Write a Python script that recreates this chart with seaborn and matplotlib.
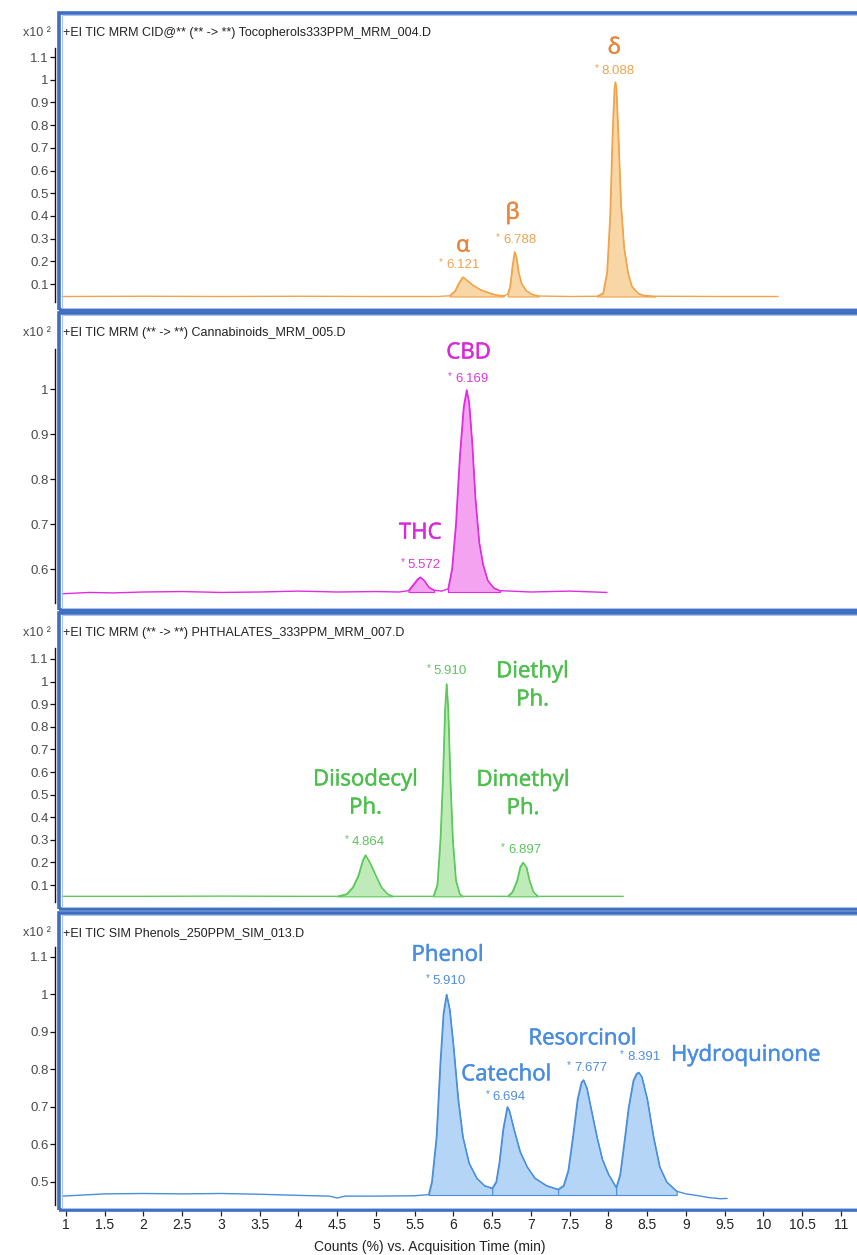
import numpy as np
import pandas as pd
import matplotlib
matplotlib.use("Agg")
import matplotlib.pyplot as plt
import matplotlib.patheffects as pe
from matplotlib.patches import Rectangle
import seaborn as sns

# ---------------- data ----------------
# Tocopherols (MRM) trace
toco_time = [0.95, 2.0, 3.0, 4.0, 5.0, 5.8, 5.95, 6.02, 6.07, 6.121, 6.17, 6.25, 6.35, 6.45,
             6.55, 6.65, 6.70, 6.73, 6.76, 6.788, 6.81, 6.84, 6.88, 6.94, 7.02, 7.10, 7.5,
             7.85, 7.93, 7.98, 8.02, 8.05, 8.075, 8.088, 8.10, 8.13, 8.16, 8.20, 8.25, 8.30,
             8.38, 8.45, 8.6, 9.5, 10.19]
toco_signal = [0.045, 0.046, 0.045, 0.046, 0.045, 0.045, 0.048, 0.07, 0.105, 0.131, 0.118,
               0.095, 0.075, 0.062, 0.052, 0.048, 0.055, 0.09, 0.18, 0.242, 0.22, 0.15, 0.10,
               0.07, 0.054, 0.047, 0.045, 0.046, 0.06, 0.15, 0.40, 0.75, 0.96, 0.99, 0.96,
               0.72, 0.45, 0.26, 0.15, 0.09, 0.06, 0.05, 0.046, 0.045, 0.045]
toco_rt = [6.121, 6.788, 8.088]
toco_names = ["α", "β", "δ"]
toco_windows = [(5.95, 6.65), (6.70, 7.10), (7.85, 8.60)]

# Cannabinoids (MRM) trace
cann_time = [0.95, 1.3, 1.6, 2.0, 2.5, 3.0, 3.5, 4.0, 4.5, 5.0, 5.3, 5.42, 5.48, 5.54, 5.572,
             5.62, 5.68, 5.75, 5.85, 5.93, 5.98, 6.03, 6.08, 6.13, 6.169, 6.20, 6.24, 6.28,
             6.33, 6.38, 6.44, 6.52, 6.6, 7.0, 7.5, 7.98]
cann_signal = [0.545, 0.548, 0.547, 0.549, 0.550, 0.548, 0.549, 0.551, 0.549, 0.550, 0.549,
               0.552, 0.565, 0.578, 0.582, 0.575, 0.560, 0.553, 0.551, 0.556, 0.60, 0.70,
               0.85, 0.96, 0.998, 0.97, 0.88, 0.76, 0.66, 0.61, 0.575, 0.558, 0.552, 0.549,
               0.551, 0.548]
cann_rt = [5.572, 6.169]
cann_names = ["THC", "CBD"]
cann_windows = [(5.42, 5.75), (5.93, 6.6)]

# Phthalates (MRM) trace
phth_time = [0.95, 2.0, 3.0, 4.0, 4.50, 4.62, 4.70, 4.77, 4.83, 4.864, 4.92, 5.0, 5.07, 5.15,
             5.22, 5.5, 5.74, 5.79, 5.83, 5.86, 5.89, 5.91, 5.93, 5.96, 5.99, 6.03, 6.08,
             6.12, 6.4, 6.70, 6.76, 6.82, 6.86, 6.897, 6.94, 6.98, 7.03, 7.09, 7.5, 8.19]
phth_signal = [0.050, 0.050, 0.051, 0.050, 0.050, 0.060, 0.090, 0.14, 0.21, 0.233, 0.20,
               0.14, 0.09, 0.06, 0.050, 0.050, 0.050, 0.10, 0.30, 0.55, 0.88, 0.99, 0.88,
               0.55, 0.30, 0.12, 0.06, 0.050, 0.050, 0.050, 0.07, 0.12, 0.18, 0.20, 0.18,
               0.12, 0.07, 0.050, 0.050, 0.050]
phth_rt = [4.864, 5.910, 6.897]
phth_names = ["Diisodecyl\nPh.", "Diethyl\nPh.", "Dimethyl\nPh."]
phth_windows = [(4.50, 5.22), (5.74, 6.12), (6.70, 7.09)]

# Phenols (SIM) trace
phen_time = [0.95, 1.5, 2.0, 2.5, 3.0, 3.5, 4.0, 4.4, 4.5, 4.6, 5.0, 5.5, 5.68, 5.72, 5.78,
             5.83, 5.87, 5.91, 5.95, 6.0, 6.06, 6.12, 6.2, 6.3, 6.4, 6.50, 6.55, 6.59, 6.64,
             6.694, 6.72, 6.78, 6.86, 6.95, 7.05, 7.2, 7.35, 7.42, 7.48, 7.54, 7.60, 7.65,
             7.677, 7.72, 7.78, 7.85, 7.92, 8.0, 8.10, 8.15, 8.20, 8.26, 8.32, 8.36, 8.391,
             8.43, 8.5, 8.58, 8.66, 8.75, 8.88, 9.0, 9.1, 9.3, 9.45, 9.53]
phen_signal = [0.462, 0.468, 0.469, 0.468, 0.469, 0.467, 0.464, 0.462, 0.457, 0.462, 0.462,
               0.463, 0.466, 0.50, 0.62, 0.82, 0.95, 1.0, 0.96, 0.86, 0.72, 0.62, 0.55, 0.51,
               0.49, 0.483, 0.50, 0.55, 0.64, 0.70, 0.69, 0.64, 0.58, 0.54, 0.51, 0.49, 0.48,
               0.49, 0.53, 0.62, 0.72, 0.765, 0.772, 0.75, 0.69, 0.62, 0.56, 0.52, 0.485, 0.52,
               0.60, 0.70, 0.77, 0.788, 0.792, 0.78, 0.72, 0.62, 0.54, 0.50, 0.475, 0.468,
               0.465, 0.458, 0.455, 0.456]
phen_rt = [5.910, 6.694, 7.677, 8.391]
phen_names = ["Phenol", "Catechol", "Resorcinol", "Hydroquinone"]
phen_windows = [(5.68, 6.50), (6.50, 7.35), (7.35, 8.10), (8.10, 8.88)]

titles = ["+EI TIC MRM CID@** (** -> **) Tocopherols333PPM_MRM_004.D",
          "+EI TIC MRM (** -> **) Cannabinoids_MRM_005.D",
          "+EI TIC MRM (** -> **) PHTHALATES_333PPM_MRM_007.D",
          "+EI TIC SIM Phenols_250PPM_SIM_013.D"]
x_ticks = [1, 1.5, 2, 2.5, 3, 3.5, 4, 4.5, 5, 5.5, 6, 6.5, 7, 7.5, 8, 8.5, 9, 9.5, 10, 10.5, 11]
x_label = "Counts (%) vs. Acquisition Time (min)"

# ---------------- styling ----------------
sns.set_style("white")
plt.rcParams["font.family"] = ["Liberation Sans", "DejaVu Sans"]

W, H = 857, 1255
fig = plt.figure(figsize=(W / 100, H / 100), dpi=100)

FRAME = "#3E6DC2"
FRAME_IN = "#A9C3EC"
NAME_FONT = ["Open Sans", "DejaVu Sans"]
NARROW = ["Liberation Sans Narrow", "Liberation Sans", "DejaVu Sans"]

panels = [
    dict(t=toco_time, v=toco_signal, rt=toco_rt, names=toco_names, win=toco_windows,
         base=0.045, line="#F2A44A", fill="#F9D6A6", name_c="#E88538", num_c="#F0A24E",
         box=(13, 310), ylim=(-0.0145, 1.294), yticks=np.round(np.arange(0.1, 1.15, 0.1), 1),
         spine=(0.02, 1.14),
         name_off=[(0, 31), (-2, 39), (-1, 34)], num_off=[(0, 12), (5, 12), (3, 11)]),
    dict(t=cann_time, v=cann_signal, rt=cann_rt, names=cann_names, win=cann_windows,
         base=0.549, line="#E22BE2", fill="#F4A3F1", name_c="#D92AD9", num_c="#DD38DD",
         box=(313, 610), ylim=(0.509, 1.169), yticks=np.round(np.arange(0.6, 1.05, 0.1), 1),
         spine=(0.524, 1.089),
         name_off=[(0, 44), (2, 37)], num_off=[(4, 12), (5, 11)]),
    dict(t=phth_time, v=phth_signal, rt=phth_rt, names=phth_names, win=phth_windows,
         base=0.05, line="#5CC95C", fill="#BFEBB9", name_c="#4DBF4D", num_c="#5CC45C",
         box=(613, 909), ylim=(-0.006, 1.3035), yticks=np.round(np.arange(0.1, 1.15, 0.1), 1),
         spine=(0.025, 1.149),
         name_off=[(0, 61), (86, -2), (0, 68)], num_off=[(3, 13), (4, 13), (2, 12)]),
    dict(t=phen_time, v=phen_signal, rt=phen_rt, names=phen_names, win=phen_windows,
         base=0.465, line="#4A8EDC", fill="#B4D5F6", name_c="#4A8DE0", num_c="#4F8FDC",
         box=(913, 1210), ylim=(0.425, 1.217), yticks=np.round(np.arange(0.5, 1.15, 0.1), 1),
         spine=(0.439, 1.127),
         name_off=[(1, 39), (-1, 32), (-1, 41), (107, 17)],
         num_off=[(3, 13), (2, 10), (7, 12), (5, 15)]),
]

left_px, right_px = 59, 866
xlim = (0.897 + (left_px - 58) / 77.5, 0.897 + (right_px - 58) / 77.5)

for i, p in enumerate(panels):
    top, bot = p["box"]
    ax = fig.add_axes([left_px / W, 1 - bot / H, (right_px - left_px) / W, (bot - top) / H])
    ax.set_facecolor("white")
    df = pd.DataFrame({"time": p["t"], "signal": p["v"]})

    # integrated peak areas
    tt = np.asarray(p["t"])
    vv = np.asarray(p["v"])
    for a, b in p["win"]:
        m = (tt >= a - 1e-9) & (tt <= b + 1e-9)
        ax.fill_between(tt[m], p["base"], vv[m], facecolor=p["fill"], edgecolor=p["line"],
                        linewidth=0.8, zorder=1)

    sns.lineplot(data=df, x="time", y="signal", ax=ax, color=p["line"], linewidth=1.0,
                 estimator=None, sort=False, zorder=2)

    ax.set_xlim(*xlim)
    ax.set_ylim(*p["ylim"])
    ax.set_xlabel("")
    ax.set_ylabel("")

    # peak labels
    apex = dict(zip(p["t"], p["v"]))
    bold = [pe.withStroke(linewidth=0.35, foreground=p["name_c"])]
    for rt, name, (nx, ny), (dx, dy) in zip(p["rt"], p["names"], p["name_off"], p["num_off"]):
        yv = apex[rt]
        ax.annotate(f"{rt:.3f}", xy=(rt, yv), xytext=(dx, dy), textcoords="offset pixels",
                    ha="center", va="center", fontsize=9.5, color=p["num_c"])
        ax.annotate("*", xy=(rt, yv), xytext=(dx - 22, dy + 3), textcoords="offset pixels",
                    ha="center", va="center", fontsize=7, color=p["num_c"])
        ax.annotate(name, xy=(rt, yv), xytext=(nx, ny), textcoords="offset pixels",
                    ha="center", va="center", fontsize=16, color=p["name_c"],
                    family=NAME_FONT, linespacing=1.45, path_effects=bold)

    # y axis: black spine slightly left of the frame
    for s in ["top", "right", "bottom"]:
        ax.spines[s].set_visible(False)
    ax.spines["left"].set_visible(True)
    ax.spines["left"].set_color("#111111")
    ax.spines["left"].set_linewidth(1.0)
    ax.spines["left"].set_position(("outward", 3.0))
    ax.spines["left"].set_bounds(*p["spine"])
    ax.set_yticks(p["yticks"])
    ax.set_yticklabels([f"{v:g}" for v in p["yticks"]])
    ax.tick_params(axis="y", direction="out", length=3.5, width=0.9, color="#111111",
                   labelsize=9.5, labelcolor="#4a4a4a", pad=1, left=True)

    # frame around the panel
    ax.add_patch(Rectangle((0, 0), 1, 1, transform=ax.transAxes, fill=False,
                           edgecolor=FRAME, linewidth=2.6, clip_on=False, zorder=5))
    ax.add_patch(Rectangle((0.004, 0.008), 0.992, 0.984, transform=ax.transAxes, fill=False,
                           edgecolor=FRAME_IN, linewidth=0.8, clip_on=False, zorder=5))

    # header
    ax.annotate(titles[i], xy=(0, 1), xycoords="axes fraction", xytext=(4, -20),
                textcoords="offset pixels", ha="left", va="center", fontsize=9,
                color="#222222")
    ax.annotate("x10 ²", xy=(0, 1), xycoords="axes fraction", xytext=(-8, -20),
                textcoords="offset pixels", ha="right", va="center", fontsize=9,
                color="#4a4a4a")

    if i < 3:
        ax.set_xticks([])
    else:
        ax.set_xticks(x_ticks)
        ax.set_xticklabels([f"{v:g}" for v in x_ticks], family=NARROW)
        ax.tick_params(axis="x", direction="out", length=4, width=0.9, color="#222222",
                       labelsize=10, labelcolor="#222222", pad=2, bottom=True)
        ax.set_xlabel(x_label, family=NARROW, fontsize=10, color="#222222")
        ax.xaxis.label.set_va("center")
        ax.xaxis.set_label_coords((430 - left_px) / (right_px - left_px), -37 / (bot - top))

fig.savefig("out.png", dpi=100, facecolor="white")
